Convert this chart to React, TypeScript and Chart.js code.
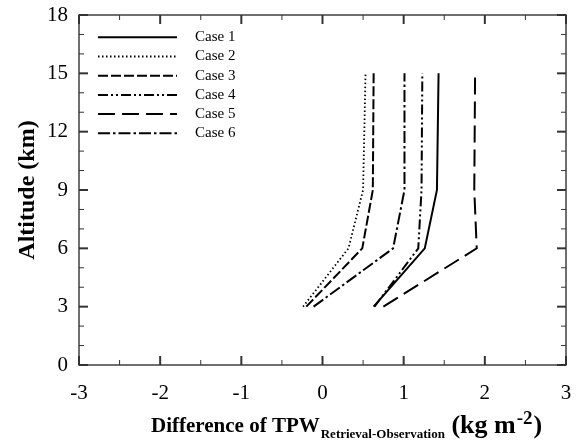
import React, { useEffect, useRef } from "react";
import { Chart, registerables } from "chart.js";
Chart.register(...registerables);

// ---- data ----
const altitudes = [3, 6, 9, 15];
const caseNames = ["Case 1", "Case 2", "Case 3", "Case 4", "Case 5", "Case 6"];
const case1 = [0.63, 1.26, 1.41, 1.43];
const case2 = [-0.24, 0.32, 0.5, 0.53];
const case3 = [-0.2, 0.49, 0.62, 0.63];
const case4 = [0.64, 1.18, 1.22, 1.23];
const case5 = [0.75, 1.9, 1.87, 1.88];
const case6 = [-0.11, 0.87, 1.01, 1.01];
const caseValues = [case1, case2, case3, case4, case5, case6];
const xMin = -3, xMax = 3, xStep = 1;
const yMin = 0, yMax = 18, yStep = 3;

// ---- styles ----
const dashes = [[], [1.5, 2.5], [10, 3], [10, 3, 2, 3, 2, 3], [17, 7], [12, 3, 2.5, 3]];
const widths = [2, 1.8, 2, 2, 2, 2];
const SERIF = '"Liberation Serif", "Times New Roman", serif';

const extrasPlugin = {
  id: "extras",
  afterDraw(chart: any) {
    const { ctx, chartArea: a, scales } = chart;
    const x = scales.x, y = scales.y;
    ctx.save();
    // frame
    ctx.strokeStyle = "#333";
    ctx.lineWidth = 1.4;
    ctx.setLineDash([]);
    ctx.strokeRect(a.left, a.top, a.right - a.left, a.bottom - a.top);
    const seg = (x1: number, y1: number, x2: number, y2: number) => {
      ctx.beginPath(); ctx.moveTo(x1, y1); ctx.lineTo(x2, y2); ctx.stroke();
    };
    // x ticks (inward, both sides)
    for (let v = xMin; v <= xMax + 1e-6; v += xStep / 2) {
      const px = x.getPixelForValue(v);
      const major = Math.abs(v - Math.round(v)) < 1e-6;
      const L = major ? 9 : 5;
      ctx.lineWidth = major ? 2 : 1;
      seg(px, a.bottom, px, a.bottom - L);
      seg(px, a.top, px, a.top + L);
    }
    // y ticks
    for (let v = yMin; v <= yMax + 1e-6; v += 1) {
      const py = y.getPixelForValue(v);
      const major = Math.abs(v % yStep) < 1e-6;
      const L = major ? 9 : 5;
      ctx.lineWidth = major ? 2 : 1;
      seg(a.left, py, a.left + L, py);
      seg(a.right, py, a.right - L, py);
    }
    // legend
    ctx.fillStyle = "#000";
    ctx.strokeStyle = "#000";
    ctx.font = `15px ${SERIF}`;
    ctx.textBaseline = "middle";
    chart.data.datasets.forEach((ds: any, i: number) => {
      const ly = 37.3 + i * 19.2;
      ctx.lineWidth = ds.borderWidth;
      ctx.setLineDash(ds.borderDash || []);
      seg(98, ly, 177, ly);
      ctx.setLineDash([]);
      ctx.fillText(ds.label, 195, ly);
    });
    // x title with subscript / superscript
    const main = `bold 21px ${SERIF}`;
    const small = `bold 13px ${SERIF}`;
    const paren = `bold 26px ${SERIF}`;
    const sup = `bold 19px ${SERIF}`;
    const parts = [
      { t: "Difference of TPW", f: main, dy: 0, gap: 0 },
      { t: "Retrieval-Observation", f: small, dy: 6, gap: 1 },
      { t: " (kg m", f: paren, dy: 1, gap: 0 },
      { t: "-2", f: sup, dy: -8, gap: 1 },
      { t: ")", f: paren, dy: 1, gap: 1 },
    ];
    let cx = 151;
    const base = 432;
    ctx.textBaseline = "alphabetic";
    ctx.textAlign = "left";
    parts.forEach((p) => {
      ctx.font = p.f;
      cx += p.gap;
      ctx.fillText(p.t, cx, base + p.dy);
      cx += ctx.measureText(p.t).width;
    });
    ctx.restore();
  },
};

export default function App() {
  const ref = useRef<HTMLCanvasElement | null>(null);
  useEffect(() => {
    document.body.style.margin = "0";
    const datasets = caseValues.map((vals, i) => ({
      label: caseNames[i],
      data: vals.map((v, j) => ({ x: v, y: altitudes[j] })),
      showLine: true,
      borderColor: "#000",
      backgroundColor: "#000",
      borderWidth: widths[i],
      borderDash: dashes[i],
      pointRadius: 0,
      fill: false,
      tension: 0,
    }));
    const chart = new Chart(ref.current as HTMLCanvasElement, {
      type: "scatter",
      data: { datasets },
      options: {
        animation: false,
        responsive: false,
        devicePixelRatio: 1,
        layout: { padding: { top: 15, right: 11, left: 0, bottom: 0 } },
        plugins: { legend: { display: false }, tooltip: { enabled: false } },
        scales: {
          x: {
            type: "linear",
            min: xMin,
            max: xMax,
            grid: { display: false, drawTicks: false },
            border: { display: false },
            ticks: { stepSize: xStep, color: "#000", padding: 16, font: { family: SERIF, size: 21 } },
            afterFit: (s: any) => { s.height = 79; s.paddingLeft = 0; s.paddingRight = 0; },
          },
          y: {
            type: "linear",
            min: yMin,
            max: yMax,
            grid: { display: false, drawTicks: false },
            border: { display: false },
            ticks: { stepSize: yStep, color: "#000", padding: 11, font: { family: SERIF, size: 21 } },
            title: {
              display: true,
              text: "Altitude (km)",
              color: "#000",
              font: { family: SERIF, size: 24, weight: "bold" },
              padding: { top: 13, bottom: 0 },
            },
            afterFit: (s: any) => { s.width = 79; s.paddingTop = 0; s.paddingBottom = 0; },
          },
        },
      },
      plugins: [extrasPlugin],
    } as any);
    return () => chart.destroy();
  }, []);
  return (
    <div style={{ width: 577, height: 444 }}>
      <canvas ref={ref} width={577} height={444} />
    </div>
  );
}
